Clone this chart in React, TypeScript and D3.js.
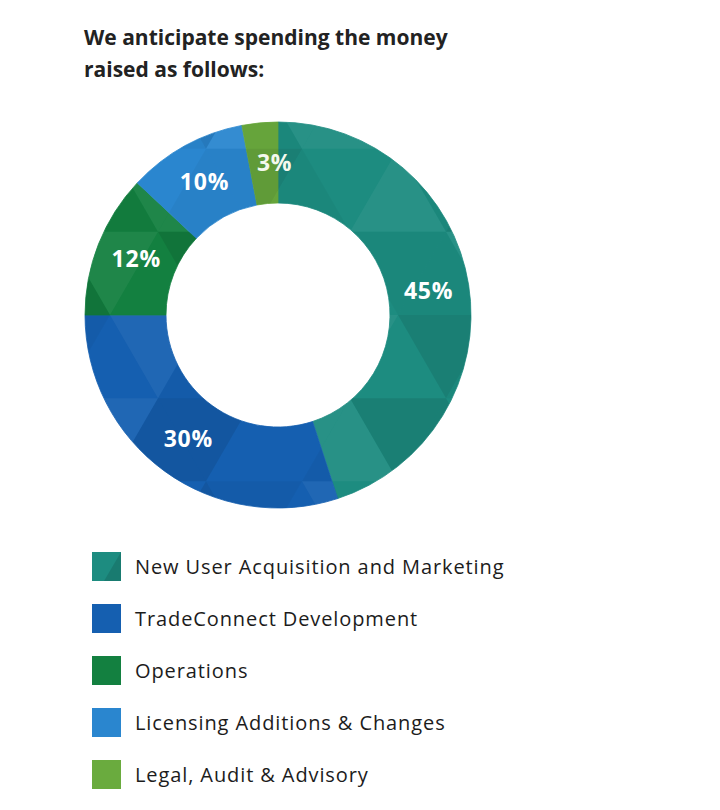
import React, { useEffect, useRef } from "react";
import * as d3 from "d3";

const categories = [
  "New User Acquisition and Marketing",
  "TradeConnect Development",
  "Operations",
  "Licensing Additions & Changes",
  "Legal, Audit & Advisory",
];
const values = [45, 30, 12, 10, 3];
const sliceLabels = ["45%", "30%", "12%", "10%", "3%"];
const colors = ["#1d8c80", "#155fb0", "#138040", "#2a86cf", "#6aab3e"];
const titleLines = ["We anticipate spending the money", "raised as follows:"];

const W = 720;
const H = 810;
const cx = 278;
const cy = 315;
const outerR = 193;
const innerR = 112;
const FONT = "'Open Sans', Lato, sans-serif";

export default function App() {
  const ref = useRef<SVGSVGElement | null>(null);

  useEffect(() => {
    const svg = d3.select(ref.current);
    svg.selectAll("*").remove();

    svg.append("rect").attr("width", W).attr("height", H).attr("fill", "#ffffff");

    // Title
    const title = svg
      .append("text")
      .attr("font-family", FONT)
      .attr("font-weight", 700)
      .attr("font-size", 21)
      .attr("fill", "#222222");
    titleLines.forEach((t, i) => {
      title
        .append("tspan")
        .attr("x", 84)
        .attr("y", 45 + i * 32)
        .text(t);
    });

    const pie = d3.pie<number>().sort(null).value((d) => d);
    const arcs = pie(values);
    const arc = d3.arc<d3.PieArcDatum<number>>().innerRadius(innerR).outerRadius(outerR);
    const labelArc = d3
      .arc<d3.PieArcDatum<number>>()
      .innerRadius((innerR + outerR) / 2)
      .outerRadius((innerR + outerR) / 2);

    const defs = svg.append("defs");
    const g = svg.append("g").attr("transform", `translate(${cx},${cy})`);

    // base fills
    arcs.forEach((a, i) => {
      g.append("path")
        .attr("d", arc(a) as string)
        .attr("fill", colors[i])
        .attr("stroke", colors[i])
        .attr("stroke-width", 0.8);
    });

    arcs.forEach((a, i) => {
      defs
        .append("clipPath")
        .attr("id", `clip-${i}`)
        .append("path")
        .attr("d", arc(a) as string);
      const sg = g.append("g").attr("clip-path", `url(#clip-${i})`);

      // low-poly facet texture (decorative)
      const side = 96;
      const h = (side * Math.sqrt(3)) / 2;
      for (let r = -3; r <= 3; r++) {
        for (let c = -5; c <= 5; c++) {
          const x0 = c * side + (r % 2 !== 0 ? side / 2 : 0) - side / 4;
          const y0 = r * h;
          const up = [
            [x0, y0 + h],
            [x0 + side / 2, y0],
            [x0 + side, y0 + h],
          ];
          const down = [
            [x0 + side / 2, y0],
            [x0 + side * 1.5, y0],
            [x0 + side, y0 + h],
          ];
          const k1 = ((r * 5 + c * 3 + i) % 4 + 4) % 4;
          const k2 = ((r * 3 + c * 7 + i * 2 + 1) % 4 + 4) % 4;
          const shade = (k: number) =>
            k === 0
              ? "rgba(0,0,0,0.09)"
              : k === 1
              ? "rgba(255,255,255,0.05)"
              : k === 2
              ? "rgba(0,0,0,0.035)"
              : "rgba(0,0,0,0)";
          sg.append("path")
            .attr("d", "M" + up.map((p) => p.join(",")).join("L") + "Z")
            .attr("fill", shade(k1));
          sg.append("path")
            .attr("d", "M" + down.map((p) => p.join(",")).join("L") + "Z")
            .attr("fill", shade(k2));
        }
      }
    });

    // labels
    arcs.forEach((a, i) => {
      const [lx, ly] = labelArc.centroid(a);
      const small = a.endAngle - a.startAngle < 0.3;
      g.append("text")
        .attr("x", lx + (small ? 11 : 0))
        .attr("y", ly + 2)
        .attr("text-anchor", "middle")
        .attr("dominant-baseline", "middle")
        .attr("font-family", FONT)
        .attr("font-weight", 700)
        .attr("font-size", 23)
        .attr("letter-spacing", 0.8)
        .attr("fill", i === 4 ? "#f4f9ee" : "#ffffff")
        .text(sliceLabels[i]);
    });

    // Legend
    const lg = svg.append("g");
    categories.forEach((cat, i) => {
      const top = 552 + i * 52;
      lg.append("rect")
        .attr("x", 92)
        .attr("y", top)
        .attr("width", 29)
        .attr("height", 29)
        .attr("fill", colors[i]);
      if (i === 0) {
        lg.append("path")
          .attr("d", `M${121},${top}L${121},${top + 29}L${104},${top + 29}Z`)
          .attr("fill", "rgba(0,0,0,0.12)");
      }
      lg.append("text")
        .attr("x", 135)
        .attr("y", top + 22)
        .attr("font-family", FONT)
        .attr("font-size", 20)
        .attr("letter-spacing", 0.9)
        .attr("fill", "#1c1c1c")
        .text(cat);
    });
  }, []);

  return <svg ref={ref} width={W} height={H} style={{ display: "block", margin: "-8px" }} />;
}
